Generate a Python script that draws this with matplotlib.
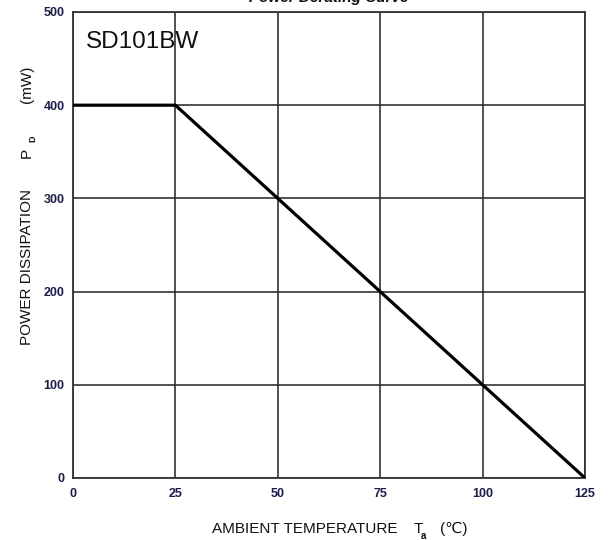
import matplotlib
matplotlib.use("Agg")
import matplotlib.pyplot as plt

plt.rcParams['font.family'] = ['Liberation Sans', 'DejaVu Sans']

# derating curve data
temp = [0, 25, 125]
power = [400, 400, 0]
x_ticks = [0, 25, 50, 75, 100, 125]
y_ticks = [0, 100, 200, 300, 400, 500]

W, H = 608, 540
fig = plt.figure(figsize=(W/100, H/100), dpi=100)
ax = fig.add_axes([73/W, 62/H, 512/W, 466/H])

ax.plot(temp, power, color='black', lw=2.3, solid_capstyle='butt', zorder=3)

ax.set_xlim(0, 125)
ax.set_ylim(0, 500)
ax.set_xticks(x_ticks)
ax.set_yticks(y_ticks)
ax.grid(True, color='#333333', lw=1.2)
for s in ax.spines.values():
    s.set_color('#333333')
    s.set_linewidth(1.3)
ax.tick_params(length=0, labelsize=9, colors='#1c1c48')
ax.tick_params(axis='x', pad=7)
ax.tick_params(axis='y', pad=6)
for lab in ax.get_xticklabels() + ax.get_yticklabels():
    lab.set_fontweight('bold')

ax.text(0.025, 0.935, 'SD101BW', transform=ax.transAxes, fontsize=17.5,
        ha='left', va='center', color='#111111')

fig.text(0.541, 1 - 2/H, 'Power Derating Curve', ha='center', va='baseline',
         fontsize=11, fontweight='bold', fontstyle='italic', color='#111111')

# y label in pieces (subscript D)
def ytxt(x, y, s, size=11, weight='normal'):
    fig.text(x/W, 1 - y/H, s, rotation=90, rotation_mode='anchor',
             ha='left', va='baseline', fontsize=size, fontweight=weight,
             color='#111111')

ytxt(31, 345, 'POWER DISSIPATION')
ytxt(31, 158, 'P')
ytxt(35, 142, 'D', size=6.5, weight='bold')
ytxt(31, 103, '(mW)')

# x label in pieces (subscript a)
def xtxt(x, y, s, size=11, ha='left', weight='normal'):
    fig.text(x/W, 1 - y/H, s, ha=ha, va='baseline', fontsize=size,
             fontweight=weight, color='#111111')

xtxt(397, 533, 'AMBIENT TEMPERATURE', ha='right')
xtxt(414, 533, 'T')
xtxt(421, 539, 'a', size=7, weight='bold')
xtxt(440, 533, '(\u2103)')

fig.savefig('out.png', dpi=100)
